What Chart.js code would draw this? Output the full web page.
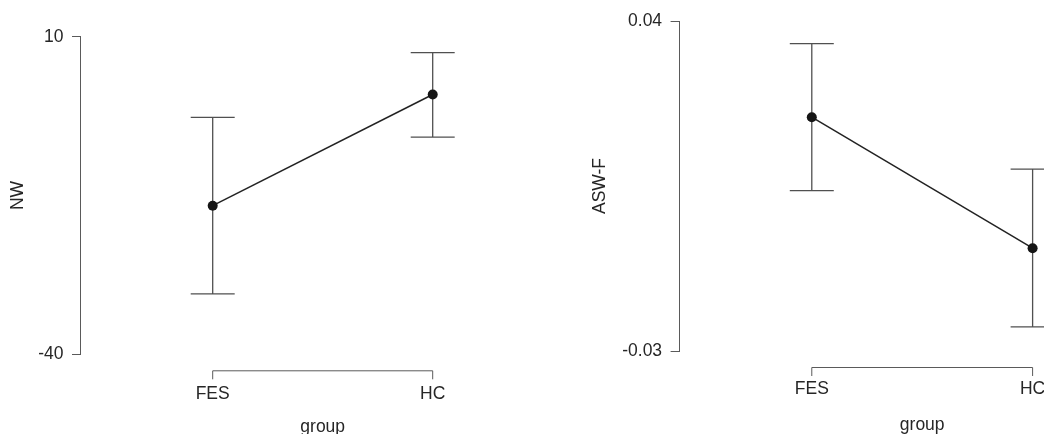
<!DOCTYPE html>
<html>
<head>
<meta charset="utf-8">
<script src="https://cdn.jsdelivr.net/npm/chart.js@4/dist/chart.umd.min.js"></script>
<style>
  html, body { margin: 0; padding: 0; background: #fff; overflow: hidden; width: 1044px; height: 434px; }
  canvas { position: absolute; top: 0; }
  #nwChart { left: 0; }
  #aswChart { left: 580px; }
</style>
</head>
<body>
<canvas id="nwChart" width="580" height="450"></canvas>
<canvas id="aswChart" width="600" height="450"></canvas>
<script>
// groups on the x axis
var groups = ["FES", "HC"];

// NW panel: mean with lower / upper error bar ends
var nwMean = [-16.6, 0.9];
var nwLower = [-30.5, -5.8];
var nwUpper = [-2.7, 7.5];
var nwTicks = [-40, 10];

// ASW-F panel
var aswMean = [0.0196, -0.0082];
var aswLower = [0.0040, -0.0249];
var aswUpper = [0.0352, 0.0086];
var aswTicks = [-0.03, 0.04];

var FONT = "'Liberation Sans', Arial, Helvetica, sans-serif";
var AXIS_COLOR = "#5a5a5a";
var TEXT_COLOR = "#262626";
var FONT_SIZE = 17.5;

// error bars + the detached R-style x axis
var errorBarPlugin = {
    id: "errorBars",
    beforeDatasetsDraw: function (chart) {
        var ctx = chart.ctx;
        var xs = chart.scales.x;
        var ys = chart.scales.y;
        var eb = chart.options.plugins.errorBars;
        ctx.save();
        ctx.strokeStyle = "#505050";
        ctx.lineWidth = 1.3;
        for (var i = 0; i < groups.length; i++) {
            var px = xs.getPixelForValue(i + 1);
            var yLo = ys.getPixelForValue(eb.lower[i]);
            var yHi = ys.getPixelForValue(eb.upper[i]);
            ctx.beginPath();
            ctx.moveTo(px, yLo);
            ctx.lineTo(px, yHi);
            ctx.moveTo(px - 22, yHi);
            ctx.lineTo(px + 22, yHi);
            ctx.moveTo(px - 22, yLo);
            ctx.lineTo(px + 22, yLo);
            ctx.stroke();
        }
        // x axis line between first and last group, ticks hanging down
        var axY = chart.chartArea.bottom + 16.5;
        var x1 = xs.getPixelForValue(1);
        var x2 = xs.getPixelForValue(groups.length);
        ctx.strokeStyle = AXIS_COLOR;
        ctx.lineWidth = 1;
        ctx.beginPath();
        ctx.moveTo(x1, axY + 8.5);
        ctx.lineTo(x1, axY);
        ctx.lineTo(x2, axY);
        ctx.lineTo(x2, axY + 8.5);
        ctx.stroke();
        ctx.restore();
    }
};

function makePanel(canvasId, means, lowers, uppers, yTicks, yTitle, lay) {
    var points = groups.map(function (g, i) {
        return {x: i + 1, y: means[i]};
    });
    return new Chart(document.getElementById(canvasId), {
        type: "line",
        data: {
            datasets: [
                {
                    data: points,
                    borderColor: "#222",
                    borderWidth: 1.5,
                    pointRadius: 5,
                    pointBackgroundColor: "#151515",
                    pointBorderWidth: 0,
                    fill: false
                }
            ]
        },
        plugins: [errorBarPlugin],
        options: {
            responsive: false,
            animation: false,
            events: [],
            layout: {
                padding: {left: 0, top: lay.top, right: lay.right, bottom: 0}
            },
            plugins: {
                legend: {display: false},
                tooltip: {enabled: false},
                errorBars: {lower: lowers, upper: uppers}
            },
            scales: {
                x: {
                    type: "linear",
                    min: 0.4,
                    max: 2.6,
                    afterBuildTicks: function (scale) {
                        scale.ticks = groups.map(function (g, i) { return {value: i + 1}; });
                    },
                    afterFit: function (scale) {
                        scale.height = lay.xHeight;
                    },
                    grid: {display: false, drawTicks: false},
                    border: {display: false},
                    ticks: {
                        padding: lay.xPad,
                        maxRotation: 0,
                        autoSkip: false,
                        color: TEXT_COLOR,
                        font: {family: FONT, size: FONT_SIZE},
                        callback: function (v) { return groups[v - 1]; }
                    },
                    title: {
                        display: true,
                        text: "group",
                        color: TEXT_COLOR,
                        font: {family: FONT, size: FONT_SIZE},
                        padding: {top: 0, bottom: lay.groupPad}
                    }
                },
                y: {
                    min: yTicks[0],
                    max: yTicks[1],
                    afterBuildTicks: function (scale) {
                        scale.ticks = yTicks.map(function (v) { return {value: v}; });
                    },
                    afterFit: function (scale) {
                        scale.width = lay.yWidth;
                    },
                    grid: {
                        display: true,
                        drawOnChartArea: false,
                        drawTicks: true,
                        tickLength: 8.7,
                        color: AXIS_COLOR
                    },
                    border: {display: true, color: AXIS_COLOR, width: 1},
                    ticks: {
                        padding: 8.5,
                        color: TEXT_COLOR,
                        font: {family: FONT, size: FONT_SIZE},
                        callback: function (v) { return String(v); }
                    },
                    title: {
                        display: true,
                        text: yTitle,
                        color: TEXT_COLOR,
                        font: {family: FONT, size: FONT_SIZE},
                        padding: {top: lay.titlePad, bottom: 0}
                    }
                }
            }
        }
    });
}

makePanel("nwChart", nwMean, nwLower, nwUpper, nwTicks, "NW",
    {top: 36.7, right: 15.3, xHeight: 95.7, xPad: 29, groupPad: 12.5, yWidth: 80.7, titlePad: 8});
makePanel("aswChart", aswMean, aswLower, aswUpper, aswTicks, "ASW-F",
    {top: 21, right: 14.9, xHeight: 99, xPad: 28, groupPad: 14.5, yWidth: 99.3, titlePad: 9.5});
</script>
</body>
</html>
